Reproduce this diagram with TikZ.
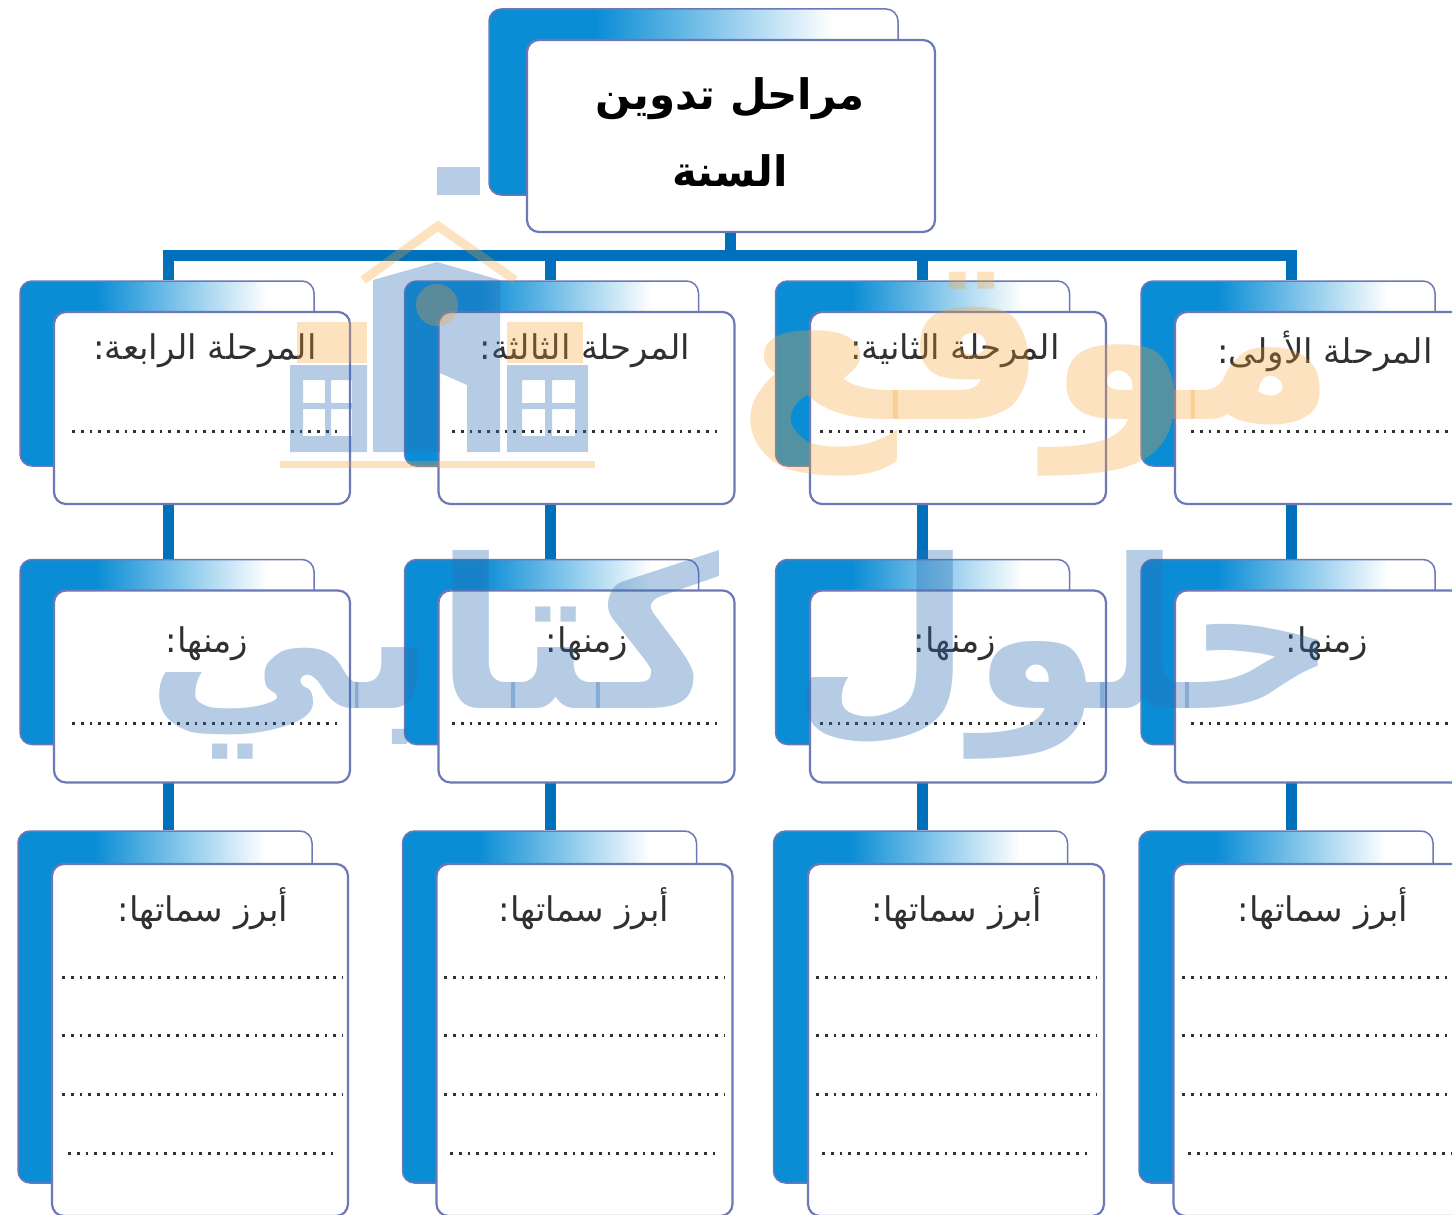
\documentclass[tikz,border=0pt]{standalone}
\usepackage{fontspec}
\setmainfont{DejaVu Sans}
\newfontfamily\arabicfont[Script=Arabic]{DejaVu Sans}
\TeXXeTstate=1
\definecolor{panelblue}{HTML}{0A8DD5}
\definecolor{edgeblue}{HTML}{6C78B8}
\definecolor{busblue}{HTML}{0070BA}
\definecolor{inkgrey}{HTML}{303030}
\definecolor{markblue}{HTML}{2F6FB5}
\definecolor{markorange}{HTML}{F9A030}
\pgfdeclarehorizontalshading{panelfade}{100bp}{color(0bp)=(panelblue); color(38bp)=(panelblue); color(67bp)=(white); color(100bp)=(white)}
\tikzset{
	panel/.style={draw=edgeblue, line width=1.5pt, rounded corners=12pt, shading=panelfade, inner sep=0pt},
	card/.style={draw=edgeblue, line width=2.2pt, rounded corners=12pt, fill=white, inner sep=0pt},
	titleback/.style={panel, minimum width=409pt, minimum height=186pt},
	titlecard/.style={card, minimum width=408pt, minimum height=192pt},
	stageback/.style={panel, minimum width=294pt, minimum height=185pt},
	stagecard/.style={card, minimum width=296pt, minimum height=192pt},
	traitback/.style={panel, minimum width=294pt, minimum height=352pt},
	traitcard/.style={card, minimum width=296pt, minimum height=352pt},
	busline/.style={busblue, line width=11pt},
	dotline/.style={inkgrey, line width=3pt, dash pattern=on 2.8pt off 5.95pt},
	cardtext/.style={inkgrey, font=\arabicfont\fontsize{34}{40}\selectfont, inner sep=0pt},
	headtext/.style={black, font=\arabicfont\bfseries\fontsize{42}{77}\selectfont, align=center, inner sep=0pt},
	markb/.style={markblue, opacity=.35},
	marko/.style={markorange, opacity=.3}
}
\newcommand{\rtl}[1]{\beginR #1\endR}
\begin{document}
\begin{tikzpicture}[x=1pt, y=-1pt]
	\path[use as bounding box, clip] (0,0) rectangle (1452,1215);
	\node[titleback] (headback) at (693.5,102) {};
	\node[titlecard] (head) at (731,136) {};
	\coordinate (busleft) at (168,255);
	\coordinate (busright) at (1291,255);
	\draw[busline, line cap=rect] (busleft) -- (busright);
	\draw[busline] ([xshift=-1pt]head.south) -- ([xshift=-1pt]head.south |- busleft);

	\node[stageback] (backA) at (1288,373.5) {};
	\node[stageback] (backB) at (922.5,373.5) {};
	\node[stageback] (backC) at (551.5,373.5) {};
	\node[stageback] (backD) at (167,373.5) {};
	\node[stageback] (timebackA) at (1288,652) {};
	\node[stageback] (timebackB) at (922.5,652) {};
	\node[stageback] (timebackC) at (551.5,652) {};
	\node[stageback] (timebackD) at (167,652) {};
	\node[traitback] (traitbackA) at (1286,1007) {};
	\node[traitback] (traitbackB) at (920.5,1007) {};
	\node[traitback] (traitbackC) at (549.5,1007) {};
	\node[traitback] (traitbackD) at (165,1007) {};

	\draw[busline] (busleft) -- (busleft |- backD.north);
	\draw[busline] ([xshift=-1.5pt]backC.north |- busleft) -- ([xshift=-1.5pt]backC.north);
	\draw[busline] (backB.north |- busleft) -- (backB.north);
	\draw[busline] (busright) -- (busright |- backA.north);
	\draw[busline] (busright |- backA.south) -- (busright |- timebackA.north);
	\draw[busline] (backB.south) -- (timebackB.north);
	\draw[busline] ([xshift=-1.5pt]backC.south) -- ([xshift=-1.5pt]timebackC.north);
	\draw[busline] (busleft |- backD.south) -- (busleft |- timebackD.north);
	\draw[busline] (busright |- timebackA.south) -- (busright |- traitbackA.north);
	\draw[busline] (timebackB.south) -- (timebackB.south |- traitbackB.north);
	\draw[busline] ([xshift=-1.5pt]timebackC.south) -- ([xshift=-1.5pt]timebackC.south |- traitbackC.north);
	\draw[busline] (busleft |- timebackD.south) -- (busleft |- traitbackD.north);

	\node[stagecard] (stageA) at (1323,408) {};
	\node[stagecard] (stageB) at (958,408) {};
	\node[stagecard] (stageC) at (586.5,408) {};
	\node[stagecard] (stageD) at (202,408) {};
	\node[stagecard] (timeA) at (1323,686.5) {};
	\node[stagecard] (timeB) at (958,686.5) {};
	\node[stagecard] (timeC) at (586.5,686.5) {};
	\node[stagecard] (timeD) at (202,686.5) {};
	\node[traitcard] (traitA) at (1321.5,1040) {};
	\node[traitcard] (traitB) at (956,1040) {};
	\node[traitcard] (traitC) at (584.5,1040) {};
	\node[traitcard] (traitD) at (200,1040) {};

	\node[headtext] (headlabel) at (730,132) {\rtl{مراحل تدوين}\\\rtl{السنة}};
	\node[cardtext] (stagelabelA) at (1325,351) {\rtl{المرحلة الأولى:}};
	\node[cardtext] (stagelabelB) at (955,351) {\rtl{المرحلة الثانية:}};
	\node[cardtext] (stagelabelC) at (585,351) {\rtl{المرحلة الثالثة:}};
	\node[cardtext] (stagelabelD) at (205,351) {\rtl{المرحلة الرابعة:}};
	\node[cardtext] (timelabelA) at (1327,644) {\rtl{زمنها:}};
	\node[cardtext] (timelabelB) at (955,644) {\rtl{زمنها:}};
	\node[cardtext] (timelabelC) at (587,644) {\rtl{زمنها:}};
	\node[cardtext] (timelabelD) at (207,644) {\rtl{زمنها:}};
	\node[cardtext] (traitlabelA) at (1323,909) {\rtl{أبرز سماتها:}};
	\node[cardtext] (traitlabelB) at (957,909) {\rtl{أبرز سماتها:}};
	\node[cardtext] (traitlabelC) at (584,909) {\rtl{أبرز سماتها:}};
	\node[cardtext] (traitlabelD) at (203,909) {\rtl{أبرز سماتها:}};

	\draw[dotline] (1191,431) -- (1452,431);
	\draw[dotline] (820,431) -- (1090,431);
	\draw[dotline] (452,431) -- (720,431);
	\draw[dotline] (72,431) -- (340,431);
	\draw[dotline] (1191,723) -- (1452,723);
	\draw[dotline] (820,723) -- (1090,723);
	\draw[dotline] (452,723) -- (720,723);
	\draw[dotline] (72,723) -- (340,723);
	\draw[dotline] (1182,977) -- (1452,977);
	\draw[dotline] (1182,1035) -- (1452,1035);
	\draw[dotline] (1182,1094) -- (1452,1094);
	\draw[dotline] (1188,1153) -- (1452,1153);
	\draw[dotline] (816,977) -- (1097,977);
	\draw[dotline] (816,1035) -- (1097,1035);
	\draw[dotline] (816,1094) -- (1097,1094);
	\draw[dotline] (822,1153) -- (1090,1153);
	\draw[dotline] (444,977) -- (725,977);
	\draw[dotline] (444,1035) -- (725,1035);
	\draw[dotline] (444,1094) -- (725,1094);
	\draw[dotline] (450,1153) -- (718,1153);
	\draw[dotline] (62,977) -- (343,977);
	\draw[dotline] (62,1035) -- (343,1035);
	\draw[dotline] (62,1094) -- (343,1094);
	\draw[dotline] (68,1153) -- (338,1153);

	\node[marko, font=\arabicfont\bfseries\fontsize{232}{232}\selectfont, text opacity=.3, inner sep=0pt] (markupper) at (1037,374) {\rtl{موقع}};
	\node[markb, font=\arabicfont\bfseries\fontsize{208}{208}\selectfont, text opacity=.35, inner sep=0pt] (marklower) at (742,655) {\rtl{حلول كتابي}};
	\fill[markb] (373,452) -- (373,280) -- (437,262) -- (500,280) -- (500,452) -- (467,452) -- (467,385) -- (440,373) -- (440,452) -- cycle;
	\fill[markb] (437,167) rectangle (480,195);
	\fill[markb, even odd rule] (290,365) rectangle (367,452) (303,380) rectangle (325,403) (331,380) rectangle (352,403) (303,409) rectangle (325,436) (331,409) rectangle (352,436);
	\fill[markb, even odd rule] (507,365) rectangle (588,452) (522,380) rectangle (545,403) (552,380) rectangle (575,403) (522,409) rectangle (545,436) (552,409) rectangle (575,436);
	\fill[marko] (297,322) rectangle (367,363);
	\fill[marko] (507,322) rectangle (583,363);
	\fill[marko] (280,461) rectangle (595,468);
	\fill[marko] (437,305) circle (21);
	\draw[marko, line width=9pt] (363,280) -- (438,226) -- (515,280);
\end{tikzpicture}
\end{document}
